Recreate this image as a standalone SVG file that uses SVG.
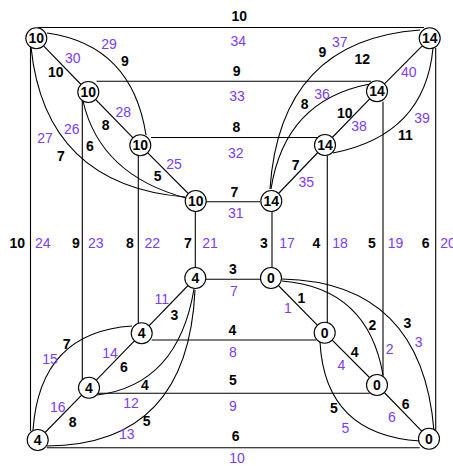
<svg xmlns="http://www.w3.org/2000/svg" width="453" height="466" viewBox="0 0 453 466">
<style>
.e{fill:none;stroke:#000;stroke-width:1.1}
.n circle{fill:#fff;stroke:#000;stroke-width:1.1}
.n text{font-family:"Liberation Sans",Arial,sans-serif;font-size:14px;font-weight:bold;text-anchor:middle;fill:#000}
.w{font-family:"Liberation Sans",Arial,sans-serif;font-size:14px;font-weight:bold;text-anchor:middle;fill:#000}
.i{font-family:"Liberation Sans",Arial,sans-serif;font-size:14px;text-anchor:middle;fill:#7a3cff}
</style>
<rect width="453" height="466" fill="#fff"/>
<g id="connectors">
<line class="e" x1="38" y1="27.5" x2="424" y2="27.5"/>
<line class="e" x1="96.5" y1="81.3" x2="371" y2="81.3"/>
<line class="e" x1="151" y1="137.5" x2="318" y2="137.5"/>
<line class="e" x1="206" y1="201.7" x2="260" y2="201.7"/>
<line class="e" x1="205.7" y1="279.3" x2="260" y2="279.3"/>
<line class="e" x1="151.7" y1="340" x2="316.3" y2="340"/>
<line class="e" x1="96.7" y1="393.3" x2="369.7" y2="393.3"/>
<line class="e" x1="46.7" y1="447.7" x2="419.7" y2="447.7"/>
<line class="e" x1="30.5" y1="47" x2="30.5" y2="431"/>
<line class="e" x1="82.3" y1="100" x2="82.3" y2="383"/>
<line class="e" x1="138.3" y1="150" x2="138.3" y2="327"/>
<line class="e" x1="195.3" y1="211" x2="195.3" y2="267"/>
<line class="e" x1="435.7" y1="48" x2="435.7" y2="433"/>
<line class="e" x1="383" y1="101.7" x2="383" y2="378"/>
<line class="e" x1="327.3" y1="155.7" x2="327.3" y2="326"/>
<line class="e" x1="272" y1="211" x2="272" y2="268"/>
<line class="e" x1="36.3" y1="38.3" x2="88.3" y2="92"/>
<line class="e" x1="88.3" y1="92" x2="140.3" y2="145.3"/>
<line class="e" x1="140.3" y1="145.3" x2="195.7" y2="201"/>
<path class="e" d="M47,33 Q132,45 146,135"/>
<path class="e" d="M31,47 Q45,185 185,197"/>
<path class="e" d="M83,101 Q100,175 186,198"/>
<line class="e" x1="429.7" y1="38.3" x2="377" y2="91.3"/>
<line class="e" x1="377" y1="91.3" x2="325" y2="145"/>
<line class="e" x1="325" y1="145" x2="271.3" y2="201"/>
<path class="e" d="M270,189 Q280,40 420,30"/>
<path class="e" d="M271,189 Q285,100 370,84"/>
<path class="e" d="M333,153 Q425,135 433,48"/>
<line class="e" x1="195.3" y1="278" x2="141.7" y2="333.3"/>
<line class="e" x1="141.7" y1="333.3" x2="89" y2="387.7"/>
<line class="e" x1="89" y1="387.7" x2="37.7" y2="440"/>
<path class="e" d="M132,326 Q40,332 33,430"/>
<path class="e" d="M194,289 Q178,385 97,395"/>
<path class="e" d="M195,290 Q188,445 47,446"/>
<line class="e" x1="271" y1="278" x2="324.7" y2="332.7"/>
<line class="e" x1="324.7" y1="332.7" x2="377" y2="385"/>
<line class="e" x1="377" y1="385" x2="429" y2="438.7"/>
<path class="e" d="M282,281 Q368,288 383,375"/>
<path class="e" d="M282,279 Q422,282 434,431"/>
<path class="e" d="M320,342 Q325,435 420,441"/>
</g>
<g id="edge-labels">
<text class="w" x="239.3" y="21">10</text><text class="i" x="238.3" y="46">34</text>
<text class="w" x="236.7" y="76">9</text><text class="i" x="237" y="100.7">33</text>
<text class="w" x="236.3" y="131.5">8</text><text class="i" x="235.7" y="157.5">32</text>
<text class="w" x="234.5" y="196.7">7</text><text class="i" x="235.7" y="217.5">31</text>
<text class="w" x="233" y="274.3">3</text><text class="i" x="234" y="295.5">7</text>
<text class="w" x="232.3" y="335.3">4</text><text class="i" x="233" y="357">8</text>
<text class="w" x="233" y="385.3">5</text><text class="i" x="233" y="410.5">9</text>
<text class="w" x="235.7" y="441.3">6</text><text class="i" x="237" y="463">10</text>
<text class="w" x="17.3" y="247.7">10</text><text class="i" x="42.7" y="247.7">24</text>
<text class="w" x="76" y="247.7">9</text><text class="i" x="95.7" y="247.7">23</text>
<text class="w" x="130" y="247.7">8</text><text class="i" x="152.3" y="247.7">22</text>
<text class="w" x="188" y="247.7">7</text><text class="i" x="210" y="247.7">21</text>
<text class="w" x="264" y="247.7">3</text><text class="i" x="287" y="247.7">17</text>
<text class="w" x="316.5" y="247.7">4</text><text class="i" x="340" y="247.7">18</text>
<text class="w" x="372" y="247.7">5</text><text class="i" x="395.5" y="247.7">19</text>
<text class="w" x="425.7" y="247.7">6</text><text class="i" x="448" y="247.7">20</text>
<text class="i" x="109" y="49.3">29</text><text class="w" x="125" y="66">9</text>
<text class="i" x="72.7" y="63.3">30</text><text class="w" x="55.7" y="77.3">10</text>
<text class="i" x="123.3" y="116.7">28</text><text class="w" x="105.7" y="130">8</text>
<text class="i" x="71.7" y="134.3">26</text><text class="i" x="45" y="143.3">27</text>
<text class="w" x="90" y="150.7">6</text><text class="w" x="61" y="161">7</text>
<text class="i" x="174" y="169">25</text><text class="w" x="157.7" y="180.7">5</text>
<text class="w" x="322.3" y="56.7">9</text><text class="i" x="339.7" y="47.3">37</text>
<text class="w" x="362.3" y="64">12</text><text class="i" x="408.7" y="76.7">40</text>
<text class="w" x="304.7" y="109.3">8</text><text class="i" x="322" y="99">36</text>
<text class="w" x="344.7" y="117.7">10</text><text class="i" x="359" y="131">38</text>
<text class="i" x="422" y="122.7">39</text><text class="w" x="405.3" y="140">11</text>
<text class="w" x="295.7" y="170">7</text><text class="i" x="306.3" y="186.7">35</text>
<text class="i" x="161.7" y="304.3">11</text><text class="w" x="174.3" y="320">3</text>
<text class="w" x="66.7" y="349.3">7</text><text class="i" x="50" y="364.3">15</text>
<text class="i" x="110" y="357.7">14</text><text class="w" x="124" y="371.7">6</text>
<text class="w" x="145" y="390">4</text><text class="i" x="57.7" y="412">16</text>
<text class="i" x="131" y="407.7">12</text><text class="w" x="72.7" y="427">8</text>
<text class="w" x="146.7" y="426">5</text><text class="i" x="126.7" y="439.3">13</text>
<text class="w" x="301.3" y="302.7">1</text><text class="i" x="288" y="312.7">1</text>
<text class="w" x="372.3" y="330.3">2</text><text class="w" x="407.3" y="328.3">3</text>
<text class="i" x="389.7" y="354.3">2</text><text class="i" x="418.7" y="347">3</text>
<text class="w" x="354.7" y="357">4</text><text class="i" x="341.3" y="370">4</text>
<text class="w" x="405.7" y="409.3">6</text><text class="i" x="392" y="422">6</text>
<text class="w" x="334" y="413.3">5</text><text class="i" x="345.3" y="433.3">5</text>
</g>
<g id="TL0" class="n"><circle cx="36.3" cy="38.3" r="10.5"/><text x="36.3" y="43.3">10</text></g>
<g id="TL1" class="n"><circle cx="88.3" cy="92" r="10.5"/><text x="88.3" y="97">10</text></g>
<g id="TL2" class="n"><circle cx="140.3" cy="145.3" r="10.5"/><text x="140.3" y="150.3">10</text></g>
<g id="TL3" class="n"><circle cx="195.7" cy="201" r="10.5"/><text x="195.7" y="206">10</text></g>
<g id="TR0" class="n"><circle cx="429.7" cy="38.3" r="10.5"/><text x="429.7" y="43.3">14</text></g>
<g id="TR1" class="n"><circle cx="377" cy="91.3" r="10.5"/><text x="377" y="96.3">14</text></g>
<g id="TR2" class="n"><circle cx="325" cy="145" r="10.5"/><text x="325" y="150">14</text></g>
<g id="TR3" class="n"><circle cx="271.3" cy="201" r="10.5"/><text x="271.3" y="206">14</text></g>
<g id="BL3" class="n"><circle cx="195.3" cy="278" r="10.5"/><text x="195.3" y="283">4</text></g>
<g id="BL2" class="n"><circle cx="141.7" cy="333.3" r="10.5"/><text x="141.7" y="338.3">4</text></g>
<g id="BL1" class="n"><circle cx="89" cy="387.7" r="10.5"/><text x="89" y="392.7">4</text></g>
<g id="BL0" class="n"><circle cx="37.7" cy="440" r="10.5"/><text x="37.7" y="445">4</text></g>
<g id="BR3" class="n"><circle cx="271" cy="278" r="10.5"/><text x="271" y="283">0</text></g>
<g id="BR2" class="n"><circle cx="324.7" cy="332.7" r="10.5"/><text x="324.7" y="337.7">0</text></g>
<g id="BR1" class="n"><circle cx="377" cy="385" r="10.5"/><text x="377" y="390">0</text></g>
<g id="BR0" class="n"><circle cx="429" cy="438.7" r="10.5"/><text x="429" y="443.7">0</text></g>
</svg>
